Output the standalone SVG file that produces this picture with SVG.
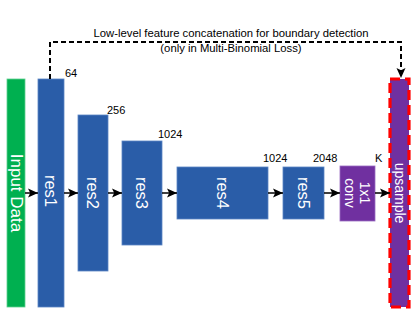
<svg xmlns="http://www.w3.org/2000/svg" width="415" height="311" viewBox="0 0 415 311">
<style>
.lbl{font-family:"Liberation Sans",Arial,sans-serif;fill:#ffffff;text-anchor:middle;dominant-baseline:central}
.num{font-family:"Liberation Sans",Arial,sans-serif;font-size:11px;fill:#000}
.ttl{font-family:"Liberation Sans",Arial,sans-serif;font-size:11.3px;fill:#000;text-anchor:middle}
.blue{fill:#2A5DA8;stroke:#5B86C4;stroke-width:0.8}
.purple{fill:#7030A0;stroke:#9a6cc0;stroke-width:0.8}
.arr{stroke:#000;stroke-width:1.5;fill:none;marker-end:url(#ah)}
</style>
<defs>
<marker id="ah" markerWidth="11" markerHeight="11" refX="10" refY="5.5" orient="auto" markerUnits="userSpaceOnUse">
<path d="M0,1 L10,5.5 L0,10 L2.2,5.5 Z" fill="#000"/>
</marker>
</defs>
<rect width="415" height="311" fill="#fff"/>
<g id="title">
<text class="ttl" x="231" y="37">Low-level feature concatenation for boundary detection</text>
<text class="ttl" x="231" y="51.5">(only in Multi-Binomial Loss)</text>
</g>
<g id="input">
<rect x="7" y="79" width="18" height="228" fill="#00B050" stroke="#5fd08f" stroke-width="0.8"/>
<text class="lbl" font-size="17" transform="translate(16,193) rotate(90)">Input Data</text>
</g>
<g id="res1">
<rect class="blue" x="38" y="79" width="26" height="228"/>
<text class="lbl" font-size="16.5" transform="translate(51,191) rotate(90)">res1</text>
<text class="num" x="65" y="77">64</text>
</g>
<g id="res2">
<rect class="blue" x="78" y="115" width="30" height="156"/>
<text class="lbl" font-size="16.5" transform="translate(93,193) rotate(90)">res2</text>
<text class="num" x="107" y="114">256</text>
</g>
<g id="res3">
<rect class="blue" x="122" y="141" width="40" height="104"/>
<text class="lbl" font-size="16.5" transform="translate(142,193) rotate(90)">res3</text>
<text class="num" x="158" y="138">1024</text>
</g>
<g id="res4">
<rect class="blue" x="177" y="167" width="91" height="52"/>
<text class="lbl" font-size="16.5" transform="translate(222.5,193) rotate(90)">res4</text>
<text class="num" x="263" y="162">1024</text>
</g>
<g id="res5">
<rect class="blue" x="283" y="167" width="41" height="52"/>
<text class="lbl" font-size="16.5" transform="translate(303.5,193) rotate(90)">res5</text>
<text class="num" x="313" y="162">2048</text>
</g>
<g id="conv">
<rect class="purple" x="340" y="166" width="35" height="55"/>
<text class="lbl" font-size="14" transform="translate(365,193) rotate(90)">1x1</text>
<text class="lbl" font-size="14" transform="translate(350,193) rotate(90)">conv</text>
<text class="num" x="375" y="162">K</text>
</g>
<g id="upsample">
<rect x="390" y="79" width="19" height="228" fill="#7030A0" stroke="#FF0000" stroke-width="3.2" stroke-dasharray="10,5"/>
<text class="lbl" font-size="14" transform="translate(399.5,193) rotate(90)">upsample</text>
</g>
<g id="connectors">
<line class="arr" x1="25" y1="193" x2="38" y2="193"/>
<line class="arr" x1="64" y1="193" x2="78" y2="193"/>
<line class="arr" x1="108" y1="193" x2="122" y2="193"/>
<line class="arr" x1="162" y1="193" x2="177" y2="193"/>
<line class="arr" x1="268" y1="193" x2="283" y2="193"/>
<line class="arr" x1="324" y1="193" x2="340" y2="193"/>
<line class="arr" x1="375" y1="193" x2="390" y2="193"/>
<path d="M50,79 L50,42 L401,42 L401,78" fill="none" stroke="#000" stroke-width="2" stroke-dasharray="5,3" marker-end="url(#ah)"/>
</g>
</svg>
